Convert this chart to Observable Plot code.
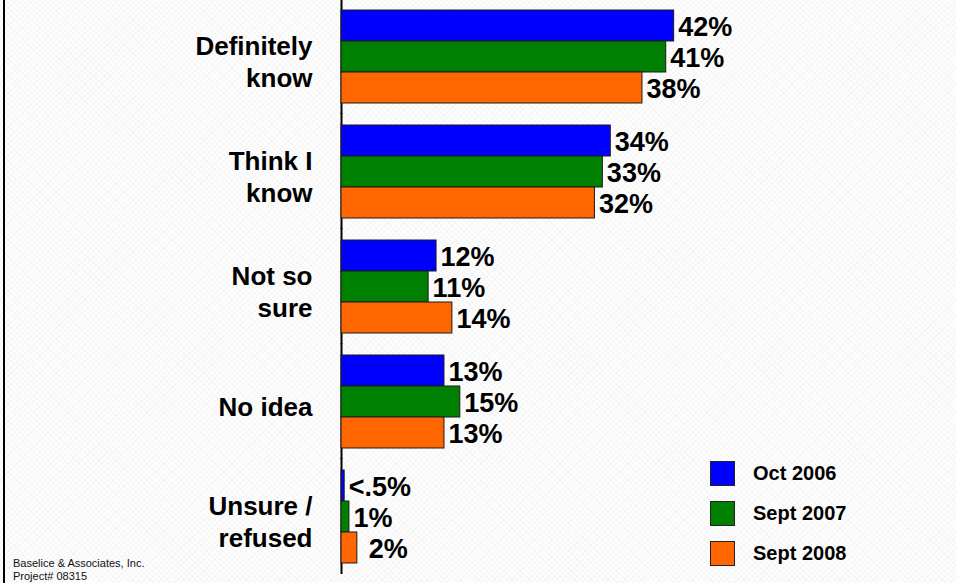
<!DOCTYPE html>
<html>
<head>
<meta charset="utf-8">
<script src="https://cdn.jsdelivr.net/npm/d3@7"></script>
<script src="https://cdn.jsdelivr.net/npm/@observablehq/plot@0.6"></script>
<style>
  html, body { margin: 0; padding: 0; }
  body { font-family: "Liberation Sans", Arial, Helvetica, sans-serif; }
  #wrap {
    position: relative; width: 956px; height: 583px; overflow: hidden;
    background-color: #fdfdfd;
    background-image:
      repeating-linear-gradient(45deg, rgba(0,0,0,0.025) 0 1px, transparent 1px 4px),
      repeating-linear-gradient(-45deg, rgba(0,0,0,0.025) 0 1px, transparent 1px 4px);
  }
  #border { position: absolute; left: 3px; top: 0; width: 2px; height: 583px; background: #000; }
  #chart { position: absolute; left: 0; top: 0; }
  #legend { position: absolute; left: 710px; top: 461px; }
  .item { display: flex; align-items: center; height: 25px; margin-bottom: 15px; }
  .sw { width: 23px; height: 23px; border: 1px solid #222; box-sizing: content-box; }
  .lt { margin-left: 18px; font-weight: bold; font-size: 20px; color: #000; }
  #footer { position: absolute; left: 13px; top: 557px; font-size: 11px; line-height: 13px; color: #111; }
</style>
</head>
<body>
<div id="wrap">
  <div id="border"></div>
  <div id="chart"></div>
  <div id="legend"></div>
  <div id="footer">Baselice &amp; Associates, Inc.<br>Project# 08315</div>
</div>
<script>
const categories = ["Definitely\nknow", "Think I\nknow", "Not so\nsure", "No idea", "Unsure /\nrefused"];
const seriesNames = ["Oct 2006", "Sept 2007", "Sept 2008"];
const seriesColors = ["#0000FF", "#008000", "#FF6600"];
const oct2006 = [42, 34, 12, 13, 0.4];
const sept2007 = [41, 33, 11, 15, 1];
const sept2008 = [38, 32, 14, 13, 2];
const oct2006Labels = ["42%", "34%", "12%", "13%", "<.5%"];
const sept2007Labels = ["41%", "33%", "11%", "15%", "1%"];
const sept2008Labels = ["38%", "32%", "14%", "13%", "\u00a02%"];

const seriesValues = [oct2006, sept2007, sept2008];
const seriesLabels = [oct2006Labels, sept2007Labels, sept2008Labels];
const data = [];
categories.forEach((c, i) => {
  seriesNames.forEach((s, j) => {
    data.push({category: c, series: s, value: seriesValues[j][i], label: seriesLabels[j][i]});
  });
});

const plot = Plot.plot({
  width: 956,
  height: 583,
  marginLeft: 341,
  marginRight: 219,
  marginTop: 7,
  marginBottom: 17,
  style: {background: "transparent", fontFamily: "'Liberation Sans', Arial, sans-serif"},
  x: {domain: [0, 50], axis: null},
  y: {domain: seriesNames, padding: 0, axis: null},
  fy: {domain: categories, paddingInner: 0.181, paddingOuter: 0, axis: null},
  color: {domain: seriesNames, range: seriesColors},
  marks: [
    Plot.ruleX([0], {stroke: "#000", strokeWidth: 2, insetTop: -11, insetBottom: -11}),
    Plot.barX(data, {x: "value", y: "series", fy: "category", fill: "series", stroke: "#1a1a1a", strokeWidth: 1}),
    Plot.text(data, {x: "value", y: "series", fy: "category", text: "label", textAnchor: "start", dx: 4, dy: 1,
      fontSize: 27, fontWeight: "bold", fill: "#000"}),
    Plot.text(categories, {fy: d => d, text: d => d, frameAnchor: "left", textAnchor: "end", dx: -29, dy: 4,
      fontSize: 26, fontWeight: "bold", lineHeight: 1.22, fill: "#000"})
  ]
});
document.getElementById("chart").appendChild(plot);

const legend = document.getElementById("legend");
seriesNames.forEach((s, j) => {
  const it = document.createElement("div");
  it.className = "item";
  const sw = document.createElement("div");
  sw.className = "sw";
  sw.style.background = seriesColors[j];
  const lt = document.createElement("div");
  lt.className = "lt";
  lt.textContent = s;
  it.appendChild(sw); it.appendChild(lt);
  legend.appendChild(it);
});
</script>
</body>
</html>
